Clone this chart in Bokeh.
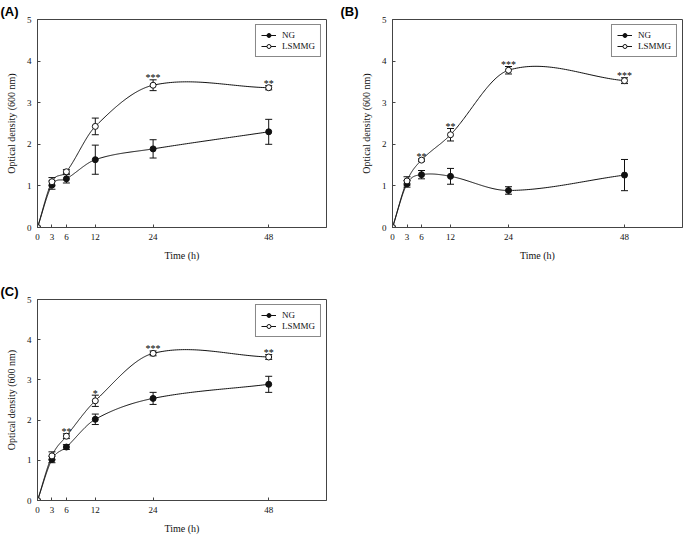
import numpy as np
from bokeh.plotting import figure
from bokeh.models import (ColumnDataSource, Whisker, TeeHead, Legend, LegendItem,
                          FixedTicker, Range1d, Title)
from bokeh.layouts import column, row
from bokeh.embed import file_html
from bokeh.resources import INLINE

# ---------------- data ----------------
time = [0, 3, 6, 12, 24, 48]
x_ticks = [0, 3, 6, 12, 24, 48]
y_ticks = [0, 1, 2, 3, 4, 5]

A_ng = [0, 1.02, 1.17, 1.63, 1.89, 2.30]
A_ng_err = [0, 0.10, 0.10, 0.35, 0.22, 0.30]
A_ls = [0, 1.10, 1.34, 2.43, 3.42, 3.36]
A_ls_err = [0, 0.10, 0.05, 0.20, 0.13, 0.05]
A_stars = ["", "", "", "", "***", "**"]

B_ng = [0, 1.05, 1.27, 1.23, 0.89, 1.26]
B_ng_err = [0, 0.08, 0.10, 0.19, 0.09, 0.375]
B_ls = [0, 1.12, 1.62, 2.23, 3.78, 3.53]
B_ls_err = [0, 0.10, 0.03, 0.15, 0.09, 0.07]
B_stars = ["", "", "**", "**", "***", "***"]

C_ng = [0, 1.02, 1.33, 2.02, 2.54, 2.89]
C_ng_err = [0, 0.08, 0.06, 0.13, 0.15, 0.20]
C_ls = [0, 1.11, 1.60, 2.48, 3.66, 3.57]
C_ls_err = [0, 0.10, 0.06, 0.14, 0.06, 0.06]
C_stars = ["", "", "**", "*", "***", "**"]

series_names = ["NG", "LSMMG"]
panel_labels = ["(A)", "(B)", "(C)"]
x_label = "Time (h)"
y_label = "Optical density (600 nm)"

SERIF = "Liberation Serif"
SANS = "Liberation Sans"
INK = "#111111"
FRAME = "#444444"


def smooth_curve(xs, ys, per_seg=60):
    """Piecewise cubic Hermite curve through the points (finite-difference tangents)."""
    x = np.asarray(xs, float)
    y = np.asarray(ys, float)
    n = len(x)
    m = np.zeros(n)
    m[0] = (y[1] - y[0]) / (x[1] - x[0])
    m[-1] = (y[-1] - y[-2]) / (x[-1] - x[-2])
    for i in range(1, n - 1):
        m[i] = (y[i + 1] - y[i - 1]) / (x[i + 1] - x[i - 1])
    out_x, out_y = [], []
    for i in range(n - 1):
        h = x[i + 1] - x[i]
        s = np.linspace(0, 1, per_seg, endpoint=(i == n - 2))
        h00 = 2 * s ** 3 - 3 * s ** 2 + 1
        h10 = s ** 3 - 2 * s ** 2 + s
        h01 = -2 * s ** 3 + 3 * s ** 2
        h11 = s ** 3 - s ** 2
        out_x.append(x[i] + s * h)
        out_y.append(h00 * y[i] + h10 * h * m[i] + h01 * y[i + 1] + h11 * h * m[i + 1])
    return np.concatenate(out_x), np.concatenate(out_y)


def make_panel(label, ng, ng_err, ls, ls_err, stars, width, height,
               bl, br, bt, bb):
    p = figure(width=width, height=height, output_backend="svg",
               toolbar_location=None, x_range=Range1d(0, 60), y_range=Range1d(0, 5),
               min_border_left=bl, min_border_right=br, min_border_top=bt,
               min_border_bottom=bb)
    p.grid.visible = False
    p.outline_line_color = FRAME
    p.outline_line_width = 1
    p.background_fill_color = "white"
    p.border_fill_color = "white"

    t = Title(text=label, align="left", offset=-bl, standoff=2,
              text_font=SANS, text_font_size="13px", text_font_style="bold",
              text_color="black")
    p.add_layout(t, "above")

    for ax in (p.xaxis[0], p.yaxis[0]):
        ax.axis_line_color = FRAME
        ax.major_tick_line_color = FRAME
        ax.major_tick_in = 3
        ax.major_tick_out = 0
        ax.minor_tick_line_color = None
        ax.major_label_text_font = SERIF
        ax.major_label_text_font_size = "9px"
        ax.major_label_text_color = INK
        ax.axis_label_text_font = SERIF
        ax.axis_label_text_font_size = "10px"
        ax.axis_label_text_font_style = "normal"
        ax.axis_label_text_color = INK
        ax.major_label_standoff = 6
        ax.axis_label_standoff = 7
    p.xaxis.ticker = FixedTicker(ticks=x_ticks)
    p.yaxis.ticker = FixedTicker(ticks=y_ticks)
    p.xaxis.axis_label = x_label
    p.yaxis.axis_label = y_label

    renderers = []
    for vals, errs, fill in ((ng, ng_err, INK), (ls, ls_err, "white")):
        sx, sy = smooth_curve(time, vals)
        line_r = p.line(sx, sy, line_color=INK, line_width=1)
        t_e = [tt for tt, e in zip(time, errs) if e > 0]
        up = [v + e for v, e in zip(vals, errs) if e > 0]
        lo = [v - e for v, e in zip(vals, errs) if e > 0]
        src = ColumnDataSource(dict(base=t_e, upper=up, lower=lo))
        wh = Whisker(base="base", upper="upper", lower="lower", source=src,
                     line_color=INK, line_width=1,
                     upper_head=TeeHead(size=7, line_color=INK, line_width=1),
                     lower_head=TeeHead(size=7, line_color=INK, line_width=1))
        p.add_layout(wh)
        renderers.append((line_r, vals, fill))

    items = []
    for (line_r, vals, fill), name in zip(renderers, series_names):
        sc = p.scatter(time, vals, size=6, marker="circle", fill_color=fill,
                       line_color=INK, line_width=1)
        items.append(LegendItem(label=name, renderers=[line_r, sc]))

    st_x = [tt for tt, s in zip(time, stars) if s]
    st_y = [v + e for v, e, s in zip(ls, ls_err, stars) if s]
    st_t = [s for s in stars if s]
    p.text(st_x, st_y, text=st_t, text_align="center", text_baseline="alphabetic",
           y_offset=-2, text_font_size="10px", text_color="black",
           text_font={"value": SERIF})

    leg = Legend(items=items, location="top_right")
    leg.label_text_font = SERIF
    leg.label_text_font_size = "9px"
    leg.label_text_color = INK
    leg.border_line_color = INK
    leg.border_line_width = 1
    leg.background_fill_alpha = 1
    leg.glyph_width = 15
    leg.glyph_height = 10
    leg.label_height = 10
    leg.label_standoff = 6
    leg.padding = 5
    leg.spacing = 1
    leg.margin = 5
    p.add_layout(leg)
    return p


pA = make_panel(panel_labels[0], A_ng, A_ng_err, A_ls, A_ls_err, A_stars,
                340, 270, 37, 14, 17, 43)
pB = make_panel(panel_labels[1], B_ng, B_ng_err, B_ls, B_ls_err, B_stars,
                343, 270, 52, 1, 19, 41)
pC = make_panel(panel_labels[2], C_ng, C_ng_err, C_ls, C_ls_err, C_stars,
                340, 266, 37, 14, 29, 34)

layout = column(row(pA, pB), pC)
open("out.html", "w").write(file_html(layout, INLINE))
